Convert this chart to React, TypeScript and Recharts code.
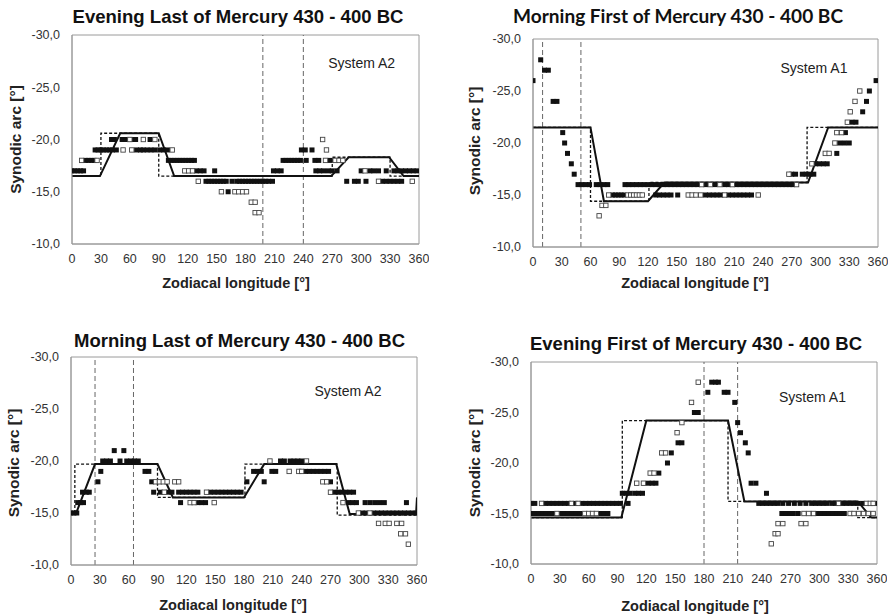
import React from "react";
import {
  ComposedChart,
  XAxis,
  YAxis,
  Scatter,
  Line,
  ReferenceLine,
  ReferenceArea,
} from "recharts";

type Row = { y: number; xs: number[] };
type Pair = [number, number];

const xTicks = [0, 30, 60, 90, 120, 150, 180, 210, 240, 270, 300, 330, 360];
const yTicks = [-30, -25, -20, -15, -10];

// Evening Last (System A2)
const elFilled: Row[] = [
  { y: -20, xs: [41, 44, 52, 56, 63, 66, 81] },
  { y: -19, xs: [24, 27, 30, 33, 36, 39, 42, 46, 67, 71, 74, 78, 82, 86, 91, 95, 99, 238, 242, 249] },
  { y: -18, xs: [14, 17, 20, 23, 100, 103, 106, 109, 112, 115, 118, 121, 124, 127, 219, 222, 225, 228, 231, 234, 237, 243, 252, 256, 268] },
  { y: -17, xs: [0, 3, 6, 9, 12, 129, 133, 137, 148, 209, 213, 217, 253, 257, 261, 266, 270, 275, 300, 309, 313, 318, 326, 334, 338, 342, 346, 350, 354, 358] },
  { y: -16, xs: [139, 142, 145, 148, 151, 154, 157, 160, 166, 171, 174, 177, 180, 183, 186, 189, 192, 195, 198, 201, 204, 208, 285, 293, 297, 305, 322, 326, 330, 334, 338, 342] },
  { y: -15, xs: [162] },
];
const elOpen: Row[] = [
  { y: -20, xs: [60, 74, 86, 260] },
  { y: -19, xs: [53, 62, 104, 264] },
  { y: -18, xs: [10, 26, 263, 273, 277, 281] },
  { y: -17, xs: [117, 121, 125, 304] },
  { y: -16, xs: [131, 318, 353] },
  { y: -15, xs: [155, 169, 173, 177, 181] },
  { y: -14, xs: [186, 190] },
  { y: -13, xs: [190, 194] },
];
const elModel: Pair[] = [[0, -16.5], [29, -16.5], [50, -20.6], [90, -20.6], [106, -16.5], [269, -16.5], [287, -18.3], [329, -18.3], [344, -16.5], [360, -16.5]];
const elStep: Pair[] = [[0, -16.5], [30, -16.5], [30, -20.6], [90, -20.6], [90, -16.5], [270, -16.5], [270, -18.3], [330, -18.3], [330, -16.5], [360, -16.5]];
const elMarks = [198, 240];

// Morning First (System A1)
const mfFilled: Row[] = [
  { y: -28, xs: [8] },
  { y: -27, xs: [12, 16] },
  { y: -26, xs: [0, 358] },
  { y: -25, xs: [351] },
  { y: -24, xs: [21, 25, 348] },
  { y: -23, xs: [344] },
  { y: -22, xs: [333, 337] },
  { y: -21, xs: [31, 326] },
  { y: -20, xs: [33, 320, 325, 330] },
  { y: -19, xs: [36, 317] },
  { y: -18, xs: [40, 295, 299, 303, 307] },
  { y: -17, xs: [43, 270, 274, 281, 285, 289, 293] },
  { y: -16, xs: [47, 51, 55, 59, 66, 70, 74, 78, 96, 100, 104, 108, 112, 116, 120, 124, 128, 132, 136, 140, 144, 148, 152, 156, 160, 164, 168, 172, 180, 190, 200, 204, 212, 216, 220, 224, 228, 232, 236, 240, 244, 248, 252, 256, 260, 264, 268, 271] },
  { y: -15, xs: [83, 86, 89, 92, 95, 128, 132, 136, 140, 144, 151, 180, 184, 188, 192, 196, 204, 208, 212, 216, 220, 224, 228] },
];
const mfOpen: Row[] = [
  { y: -25, xs: [341] },
  { y: -24, xs: [336] },
  { y: -23, xs: [331] },
  { y: -22, xs: [328] },
  { y: -21, xs: [317, 322] },
  { y: -20, xs: [315] },
  { y: -19, xs: [305, 309] },
  { y: -18, xs: [291] },
  { y: -17, xs: [267] },
  { y: -16, xs: [176, 185, 195, 208, 275] },
  { y: -15, xs: [79, 99, 102, 105, 108, 111, 114, 162, 166, 170, 175, 200, 235] },
  { y: -14, xs: [72, 76] },
  { y: -13, xs: [69] },
];
const mfModel: Pair[] = [[0, -21.5], [60, -21.5], [74, -14.4], [120, -14.4], [137, -16.2], [287, -16.2], [308, -21.5], [360, -21.5]];
const mfStep: Pair[] = [[0, -21.5], [60, -21.5], [60, -14.4], [121, -14.4], [121, -16.2], [286, -16.2], [286, -21.5], [360, -21.5]];
const mfMarks = [10, 50];

// Morning Last (System A2)
const mlFilled: Row[] = [
  { y: -21, xs: [45, 55] },
  { y: -20, xs: [33, 37, 41, 51, 58, 62, 66, 70, 218, 222, 228, 232, 236, 240] },
  { y: -19, xs: [31, 77, 81, 190, 194, 198, 209, 213, 244, 248, 252, 256, 260, 264, 268] },
  { y: -18, xs: [28, 84, 183, 201, 270] },
  { y: -17, xs: [12, 16, 19, 86, 93, 101, 105, 112, 116, 120, 124, 128, 132, 145, 149, 153, 157, 161, 165, 169, 173, 177, 274, 278, 282, 286, 290, 294] },
  { y: -16, xs: [7, 10, 13, 114, 132, 136, 140, 289, 293, 297, 306, 311, 316, 321, 326, 349] },
  { y: -15, xs: [0, 3, 6, 303, 307, 315, 319, 323, 327, 331, 335, 339, 343, 347, 351, 355, 359] },
];
const mlOpen: Row[] = [
  { y: -20, xs: [207, 245] },
  { y: -19, xs: [227, 237, 240] },
  { y: -18, xs: [88, 92, 96, 100, 108, 112, 262, 266] },
  { y: -17, xs: [97, 141, 270] },
  { y: -16, xs: [124, 128, 149, 283] },
  { y: -15, xs: [299, 311] },
  { y: -14, xs: [320, 327, 331, 339, 344] },
  { y: -13, xs: [343, 348] },
  { y: -12, xs: [351] },
];
const mlModel: Pair[] = [[0, -14.9], [5, -14.9], [25, -19.7], [90, -19.7], [106, -16.5], [180, -16.5], [201, -19.7], [276, -19.7], [290, -14.9], [359, -14.9], [360, -16.5]];
const mlStep: Pair[] = [[0, -14.9], [4, -14.9], [4, -19.7], [90, -19.7], [90, -16.5], [181, -16.5], [181, -19.7], [277, -19.7], [277, -14.8], [360, -14.8]];
const mlMarks = [25, 65];

// Evening First (System A1)
const efFilled: Row[] = [
  { y: -28, xs: [188, 192, 195] },
  { y: -27, xs: [184, 201, 205] },
  { y: -26, xs: [212] },
  { y: -25, xs: [170, 174] },
  { y: -24, xs: [215] },
  { y: -23, xs: [218] },
  { y: -22, xs: [153, 157, 223] },
  { y: -21, xs: [146, 226] },
  { y: -20, xs: [142] },
  { y: -19, xs: [133] },
  { y: -18, xs: [122, 126, 130, 229, 234] },
  { y: -17, xs: [95, 99, 103, 108, 112, 116, 245] },
  { y: -16, xs: [0, 4, 15, 19, 23, 27, 31, 35, 39, 46, 53, 57, 61, 65, 69, 73, 77, 81, 85, 89, 93, 101, 237, 241, 245, 249, 253, 257, 262, 268, 274, 280, 286, 292, 296, 300, 304, 308, 313, 317, 324, 328, 332, 336, 340, 345, 359] },
  { y: -15, xs: [0, 4, 8, 12, 16, 20, 23, 31, 35, 39, 43, 47, 51, 72, 76, 80, 261, 265, 269, 273, 278, 298, 302, 306, 310, 314, 318, 322, 326] },
];
const efOpen: Row[] = [
  { y: -28, xs: [174] },
  { y: -26, xs: [167] },
  { y: -24, xs: [157] },
  { y: -23, xs: [152] },
  { y: -21, xs: [136, 140] },
  { y: -19, xs: [124, 128] },
  { y: -18, xs: [110, 117] },
  { y: -16, xs: [11, 42, 49, 320, 349, 353, 356] },
  { y: -15, xs: [27, 56, 60, 64, 68, 284, 289, 294, 332, 336, 341, 346, 351, 356] },
  { y: -14, xs: [257, 262, 281, 286] },
  { y: -13, xs: [254, 257] },
  { y: -12, xs: [250] },
];
const efModel: Pair[] = [[0, -14.6], [94, -14.6], [120, -24.2], [205, -24.2], [222, -16.2], [340, -16.2], [354, -14.6], [360, -14.6]];
const efStep: Pair[] = [[0, -14.6], [95, -14.6], [95, -24.2], [205, -24.2], [205, -16.2], [340, -16.2], [340, -14.6], [360, -14.6]];
const efMarks = [180, 215];

const ARIAL = '"Liberation Sans", Arial, sans-serif';
const fmt = (v: number) => v.toFixed(1).replace(".", ",");

const flat = (rows: Row[]) => rows.flatMap((r) => r.xs.map((x) => ({ x, y: r.y })));
const toPts = (pairs: Pair[]) => pairs.map(([x, y]) => ({ x, y }));

const FilledSq = (p: any) => (
  <rect x={p.cx - 2.5} y={p.cy - 2.5} width={5} height={5} fill="#111" />
);
const OpenSq = (p: any) => (
  <rect x={p.cx - 2.2} y={p.cy - 2.2} width={4.4} height={4.4} fill="#fff" stroke="#444" strokeWidth={0.9} />
);

interface PanelProps {
  L: number;
  T: number;
  R: number;
  B: number;
  filled: Row[];
  open: Row[];
  model: Pair[];
  step: Pair[];
  marks: number[];
}

function Panel({ L, T, R, B, filled, open, model, step, marks }: PanelProps) {
  const w = R - L + 80;
  const h = B - T + 40;
  const tick = { fontSize: 12.5, fill: "#333", fontFamily: ARIAL };
  return (
    <div style={{ position: "absolute", left: L - 70, top: T - 10 }}>
      <ComposedChart width={w} height={h} margin={{ top: 10, right: 10, left: 0, bottom: 0 }}>
        <XAxis
          type="number"
          dataKey="x"
          domain={[0, 360]}
          ticks={xTicks}
          interval={0}
          allowDataOverflow
          height={30}
          tickLine={false}
          tickMargin={4}
          axisLine={{ stroke: "#9a9a9a" }}
          tick={tick}
        />
        <YAxis
          type="number"
          dataKey="y"
          domain={[-30, -10]}
          reversed
          ticks={yTicks}
          interval={0}
          allowDataOverflow
          width={70}
          tickLine={false}
          tickMargin={6}
          tickFormatter={fmt}
          axisLine={{ stroke: "#9a9a9a" }}
          tick={tick}
        />
        <ReferenceArea x1={0} x2={360} y1={-30} y2={-10} fill="none" stroke="#9a9a9a" />
        {marks.map((m) => (
          <ReferenceLine key={m} x={m} stroke="#666" strokeDasharray="5 3" />
        ))}
        <Scatter data={flat(filled)} shape={FilledSq} isAnimationActive={false} />
        <Scatter data={flat(open)} shape={OpenSq} isAnimationActive={false} />
        <Line data={toPts(step)} dataKey="y" type="linear" stroke="#111" strokeWidth={1.3} strokeDasharray="3 2" dot={false} isAnimationActive={false} />
        <Line data={toPts(model)} dataKey="y" type="linear" stroke="#111" strokeWidth={2} dot={false} isAnimationActive={false} />
      </ComposedChart>
    </div>
  );
}

const titles = [
  { text: "Evening Last of Mercury 430 - 400 BC", x: 238, y: 23, len: 331, font: ARIAL },
  { text: "Morning First of Mercury 430 - 400 BC", x: 678, y: 23.3, len: 330, font: "Lato, sans-serif" },
  { text: "Morning Last of Mercury 430 - 400 BC", x: 239.5, y: 346.7, len: 331, font: ARIAL },
  { text: "Evening First of Mercury 430 - 400 BC", x: 696, y: 350, len: 332, font: ARIAL },
];
const yTitles = [
  { x: 21, y: 139.5 },
  { x: 479.5, y: 141 },
  { x: 18.5, y: 463 },
  { x: 480, y: 463 },
];
const xTitles = [
  { x: 236, y: 287.5 },
  { x: 695, y: 287.5 },
  { x: 233, y: 610 },
  { x: 695, y: 610.5 },
];
const systems = [
  { text: "System A2", x: 361.7, y: 68.3 },
  { text: "System A1", x: 814, y: 73.3 },
  { text: "System A2", x: 348, y: 396 },
  { text: "System A1", x: 812.5, y: 401.7 },
];

export default function App() {
  return (
    <div style={{ position: "absolute", left: 0, top: 0, width: 893, height: 616, background: "#fff" }}>
      <Panel L={72} T={35} R={419} B={244} filled={elFilled} open={elOpen} model={elModel} step={elStep} marks={elMarks} />
      <Panel L={533} T={39} R={878} B={247} filled={mfFilled} open={mfOpen} model={mfModel} step={mfStep} marks={mfMarks} />
      <Panel L={71} T={357} R={417} B={565} filled={mlFilled} open={mlOpen} model={mlModel} step={mlStep} marks={mlMarks} />
      <Panel L={531} T={362} R={877} B={564} filled={efFilled} open={efOpen} model={efModel} step={efStep} marks={efMarks} />
      <svg width={893} height={616} style={{ position: "absolute", left: 0, top: 0, pointerEvents: "none" }}>
        {titles.map((t) => (
          <text key={t.text} x={t.x} y={t.y} textAnchor="middle" fontFamily={t.font} fontWeight="bold" fontSize={18.5} fill="#111" textLength={t.len} lengthAdjust="spacingAndGlyphs">
            {t.text}
          </text>
        ))}
        {yTitles.map((t, i) => (
          <text key={i} transform={`translate(${t.x},${t.y}) rotate(-90)`} textAnchor="middle" fontFamily={ARIAL} fontWeight="bold" fontSize={15.5} fill="#222">
            Synodic arc [°]
          </text>
        ))}
        {xTitles.map((t, i) => (
          <text key={i} x={t.x} y={t.y} textAnchor="middle" fontFamily={ARIAL} fontWeight="bold" fontSize={14.5} fill="#222">
            Zodiacal longitude [°]
          </text>
        ))}
        {systems.map((s, i) => (
          <text key={i} x={s.x} y={s.y} textAnchor="middle" fontFamily={ARIAL} fontSize={14} fill="#222">
            {s.text}
          </text>
        ))}
      </svg>
    </div>
  );
}
